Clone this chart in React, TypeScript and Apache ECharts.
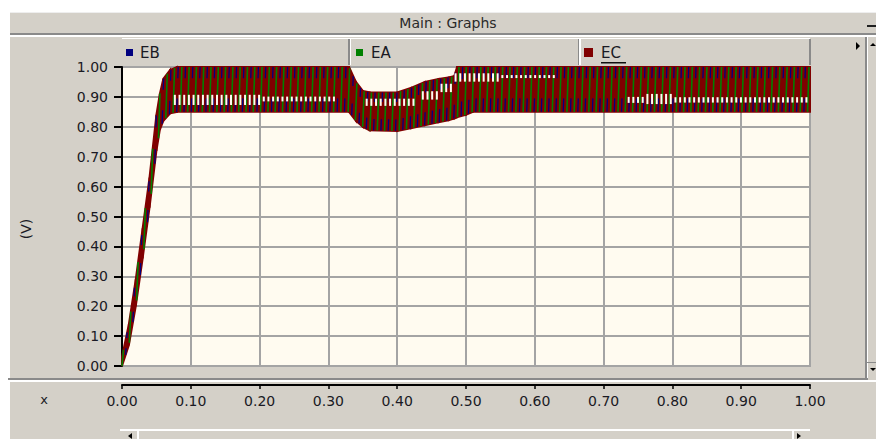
import { useEffect, useRef } from "react";
import * as echarts from "echarts";

// ---- data ----
const seriesNames = ["EB", "EA", "EC"];
const seriesColors = ["#00007f", "#008000", "#800000"];
const xTickValues = [0, 0.1, 0.2, 0.3, 0.4, 0.5, 0.6, 0.7, 0.8, 0.9, 1.0];
const yTickValues = [0, 0.1, 0.2, 0.3, 0.4, 0.5, 0.6, 0.7, 0.8, 0.9, 1.0];

// envelope of the ripple (time s, upper V, lower V)
const envT = [0, 0.01, 0.02, 0.03, 0.04, 0.05, 0.055, 0.06, 0.07, 0.08, 0.33, 0.34, 0.35, 0.36, 0.40, 0.42, 0.44, 0.46, 0.475, 0.483, 0.487, 0.50, 0.51, 1.0];
const envHigh = [0.03, 0.14, 0.29, 0.46, 0.63, 0.84, 0.91, 0.96, 0.99, 1.0, 1.0, 0.95, 0.92, 0.915, 0.915, 0.93, 0.95, 0.96, 0.965, 0.97, 1.0, 1.0, 1.0, 1.0];
const envLow = [0.0, 0.07, 0.2, 0.36, 0.53, 0.72, 0.79, 0.82, 0.845, 0.85, 0.85, 0.82, 0.8, 0.788, 0.786, 0.795, 0.805, 0.815, 0.822, 0.828, 0.832, 0.84, 0.85, 0.85];

// uncovered (white) gaps inside the band: start, end, centre, half height
const gapStart = [0.07, 0.2, 0.35, 0.43, 0.46, 0.48, 0.55, 0.73, 0.76, 0.8];
const gapEnd = [0.2, 0.31, 0.43, 0.46, 0.48, 0.55, 0.63, 0.76, 0.8, 1.0];
const gapMid = [0.89, 0.893, 0.882, 0.905, 0.93, 0.965, 0.968, 0.89, 0.893, 0.89];
const gapHalf = [0.017, 0.008, 0.012, 0.014, 0.014, 0.014, 0.005, 0.01, 0.017, 0.009];

// ripple texture (visual period of the stripes, seconds)
const stripeStep = 0.0106;
const gapStep = 0.0068;
const stripeShift = [0.5, 0, 0];
const stripeWidth = [1.3, 1.6, 0];
// parts of the band height each phase's stroke covers (fractions low->high)
const stripeParts = [
  [[0, 0.3], [0.75, 1]],
  [[0, 1]],
  [],
];

const FONT = "DejaVu Sans";
const TXT = "#1a1a24";
const PLOT_BG = "#fffbf0";
const GRID_C = "#a4a4a4";

function envAt(arr: number[], t: number): number {
  if (t <= envT[0]) return arr[0];
  for (let i = 0; i < envT.length - 1; i++) {
    if (t <= envT[i + 1]) {
      const f = (t - envT[i]) / (envT[i + 1] - envT[i]);
      return arr[i] + f * (arr[i + 1] - arr[i]);
    }
  }
  return arr[arr.length - 1];
}

// vertical ripple strokes of one phase between two envelope points
const makeStripes = (s: number) => (params: any, api: any) => {
  const i = params.dataIndex;
  if (i >= envT.length - 1) return null;
  const t0 = envT[i];
  const t1 = envT[i + 1];
  const off = stripeShift[s] * stripeStep;
  const lean = 0.0022;
  const children: any[] = [];
  let k = Math.ceil((t0 - off) / stripeStep);
  for (; off + k * stripeStep < t1; k++) {
    const tb = off + k * stripeStep;
    const tt = Math.min(1, tb + lean);
    const lo = envAt(envLow, tb);
    const hi = envAt(envHigh, tt);
    for (const [fa, fb] of stripeParts[s]) {
      const ta = tb + (tt - tb) * fa;
      const tz = tb + (tt - tb) * fb;
      const pa = api.coord([ta, lo + (hi - lo) * fa]);
      const pz = api.coord([tz, lo + (hi - lo) * fb]);
      children.push({
        type: "line",
        shape: { x1: pa[0], y1: pa[1], x2: pz[0], y2: pz[1] },
        style: { stroke: seriesColors[s], lineWidth: stripeWidth[s] },
      });
    }
  }
  return { type: "group", children, silent: true };
};

// the band between the upper and lower envelope, EC's colour
const renderBand = (params: any, api: any) => {
  const i = params.dataIndex;
  if (i >= envT.length - 1) return null;
  const pts = [
    api.coord([envT[i], envHigh[i]]),
    api.coord([envT[i + 1], envHigh[i + 1]]),
    api.coord([envT[i + 1], envLow[i + 1]]),
    api.coord([envT[i], envLow[i]]),
  ];
  return {
    type: "polygon",
    shape: { points: pts },
    style: { fill: seriesColors[2], stroke: seriesColors[2], lineWidth: 2 },
    silent: true,
  };
};

const renderGaps = (params: any, api: any) => {
  const i = params.dataIndex;
  const a = gapStart[i];
  const b = gapEnd[i];
  const m = gapMid[i];
  const h = gapHalf[i];
  const children: any[] = [];
  for (let t = Math.ceil(a / gapStep) * gapStep + gapStep * 0.3; t < b; t += gapStep) {
    const p1 = api.coord([t, m + h]);
    const p2 = api.coord([t, m - h]);
    children.push({
      type: "rect",
      shape: { x: p1[0] - 1, y: p1[1], width: 2, height: p2[1] - p1[1] },
      style: { fill: PLOT_BG },
    });
  }
  return { type: "group", children };
};

export default function App() {
  const ref = useRef<HTMLDivElement>(null);
  useEffect(() => {
    if (!ref.current) return;
    const chart = echarts.init(ref.current, undefined, { renderer: "svg" });
    const envData = envT.map((t, i) => [t, envHigh[i], envLow[i]]);
    const gapData = gapStart.map((s, i) => [s, gapMid[i], gapEnd[i], gapHalf[i]]);
    const fmt = (v: number) => v.toFixed(2);
    const option: any = {
      animation: false,
      backgroundColor: "#d4d0c8",
      tooltip: { show: false },
      grid: {
        left: 122,
        right: 66,
        top: 67,
        bottom: 73,
        show: true,
        backgroundColor: PLOT_BG,
        borderColor: GRID_C,
        borderWidth: 2,
      },
      xAxis: {
        type: "value",
        min: xTickValues[0],
        max: xTickValues[xTickValues.length - 1],
        interval: 0.1,
        offset: 19,
        axisLine: { show: true, onZero: false, lineStyle: { color: "#000", width: 2 } },
        axisTick: { show: true, length: 4, lineStyle: { color: "#000", width: 1.5 } },
        axisLabel: { formatter: fmt, margin: 9, color: TXT, fontSize: 14, fontFamily: FONT },
        splitLine: { show: true, lineStyle: { color: GRID_C, width: 2 } },
      },
      yAxis: {
        type: "value",
        min: yTickValues[0],
        max: yTickValues[yTickValues.length - 1],
        interval: 0.1,
        axisLine: { show: true, onZero: false, lineStyle: { color: "#000", width: 2 } },
        axisTick: { show: true, length: 8, lineStyle: { color: "#000", width: 2 } },
        axisLabel: { formatter: fmt, margin: 14, color: TXT, fontSize: 14, fontFamily: FONT },
        splitLine: { show: true, lineStyle: { color: GRID_C, width: 2 } },
      },
      series: [
        {
          name: seriesNames[2],
          type: "custom",
          renderItem: renderBand,
          data: envData,
          encode: { x: 0, y: [1, 2] },
          z: 2,
          silent: true,
        },
        {
          name: seriesNames[0],
          type: "custom",
          renderItem: makeStripes(0),
          data: envData,
          encode: { x: 0, y: [1, 2] },
          z: 3,
          silent: true,
        },
        {
          name: seriesNames[1],
          type: "custom",
          renderItem: makeStripes(1),
          data: envData,
          encode: { x: 0, y: [1, 2] },
          z: 4,
          silent: true,
        },
        {
          name: "gaps",
          type: "custom",
          renderItem: renderGaps,
          data: gapData,
          encode: { x: 0, y: 1 },
          z: 7,
          silent: true,
        },
      ],
      graphic: [
        // white outer margins
        { type: "rect", shape: { x: 0, y: 0, width: 876, height: 12 }, style: { fill: "#ffffff" }, silent: true },
        { type: "rect", shape: { x: 0, y: 0, width: 10, height: 439 }, style: { fill: "#ffffff" }, silent: true },
        // title bar
        { type: "rect", shape: { x: 10, y: 12, width: 866, height: 1 }, style: { fill: "#eeeeee" }, silent: true },
        {
          type: "text",
          x: 448,
          y: 23,
          style: { text: "Main : Graphs", font: `14px '${FONT}'`, fill: "#2a2a2a", align: "center", verticalAlign: "middle" },
        },
        { type: "rect", shape: { x: 10, y: 33, width: 866, height: 2 }, style: { fill: "#8a8a8a" }, silent: true },
        { type: "rect", shape: { x: 10, y: 35, width: 866, height: 2 }, style: { fill: "#ffffff" }, silent: true },
        { type: "rect", shape: { x: 867, y: 25, width: 9, height: 2 }, style: { fill: "#202020" }, silent: true },
        // legend row
        { type: "rect", shape: { x: 122, y: 38, width: 688, height: 1 }, style: { fill: "#ffffff" }, silent: true },
        { type: "rect", shape: { x: 348, y: 39, width: 2, height: 26 }, style: { fill: "#8a8a8a" }, silent: true },
        { type: "rect", shape: { x: 350, y: 39, width: 1, height: 26 }, style: { fill: "#ffffff" }, silent: true },
        { type: "rect", shape: { x: 578, y: 39, width: 1, height: 26 }, style: { fill: "#8a8a8a" }, silent: true },
        { type: "rect", shape: { x: 579, y: 39, width: 2, height: 26 }, style: { fill: "#ffffff" }, silent: true },
        { type: "rect", shape: { x: 809, y: 39, width: 2, height: 26 }, style: { fill: "#8a8a8a" }, silent: true },
        { type: "rect", shape: { x: 126, y: 49, width: 7, height: 7 }, style: { fill: seriesColors[0] }, silent: true },
        { type: "text", x: 140, y: 53, style: { text: seriesNames[0], font: `15px '${FONT}'`, fill: TXT, verticalAlign: "middle" } },
        { type: "rect", shape: { x: 356, y: 49, width: 7, height: 7 }, style: { fill: seriesColors[1] }, silent: true },
        { type: "text", x: 371, y: 53, style: { text: seriesNames[1], font: `15px '${FONT}'`, fill: TXT, verticalAlign: "middle" } },
        { type: "rect", shape: { x: 584, y: 48, width: 9, height: 9 }, style: { fill: seriesColors[2] }, silent: true },
        { type: "text", x: 601, y: 53, style: { text: seriesNames[2], font: `15px '${FONT}'`, fill: TXT, verticalAlign: "middle" } },
        { type: "rect", shape: { x: 601, y: 62, width: 25, height: 1.5 }, style: { fill: "#101010" }, silent: true },
        // right scroll column
        { type: "rect", shape: { x: 865, y: 37, width: 2, height: 343 }, style: { fill: "#8a8a8a" }, silent: true },
        { type: "rect", shape: { x: 867, y: 37, width: 1, height: 343 }, style: { fill: "#ffffff" }, silent: true },
        { type: "rect", shape: { x: 867, y: 362, width: 9, height: 1 }, style: { fill: "#8a8a8a" }, silent: true },
        { type: "polygon", shape: { points: [[856, 42], [856, 50], [860, 46]] }, style: { fill: "#000" }, silent: true },
        { type: "polygon", shape: { points: [[870, 46], [876, 46], [873, 43]] }, style: { fill: "#000" }, silent: true },
        { type: "polygon", shape: { points: [[870, 368], [876, 368], [873, 371]] }, style: { fill: "#000" }, silent: true },
        // y axis name
        {
          type: "text",
          x: 26,
          y: 229,
          rotation: Math.PI / 2,
          style: { text: "(V)", font: `14px '${FONT}'`, fill: TXT, align: "center", verticalAlign: "middle" },
        },
        // separator above x axis
        { type: "rect", shape: { x: 8, y: 378, width: 860, height: 2 }, style: { fill: "#8a8a8a" }, silent: true },
        { type: "rect", shape: { x: 8, y: 380, width: 868, height: 2 }, style: { fill: "#ffffff" }, silent: true },
        { type: "text", x: 44, y: 399, style: { text: "x", font: `13px '${FONT}'`, fill: TXT, align: "center", verticalAlign: "middle" } },
        // bottom scroll bar
        { type: "rect", shape: { x: 120, y: 429, width: 690, height: 2 }, style: { fill: "#ffffff" }, silent: true },
        { type: "rect", shape: { x: 137, y: 431, width: 2, height: 8 }, style: { fill: "#ffffff" }, silent: true },
        { type: "polygon", shape: { points: [[128, 436], [132, 433], [132, 439]] }, style: { fill: "#000" }, silent: true },
        { type: "polygon", shape: { points: [[797, 433], [797, 439], [801, 436]] }, style: { fill: "#000" }, silent: true },
        { type: "rect", shape: { x: 792, y: 431, width: 2, height: 8 }, style: { fill: "#ffffff" }, silent: true },
      ],
    };
    chart.setOption(option);
    return () => chart.dispose();
  }, []);
  return <div ref={ref} style={{ position: "absolute", left: 0, top: 0, width: 876, height: 439 }} />;
}
